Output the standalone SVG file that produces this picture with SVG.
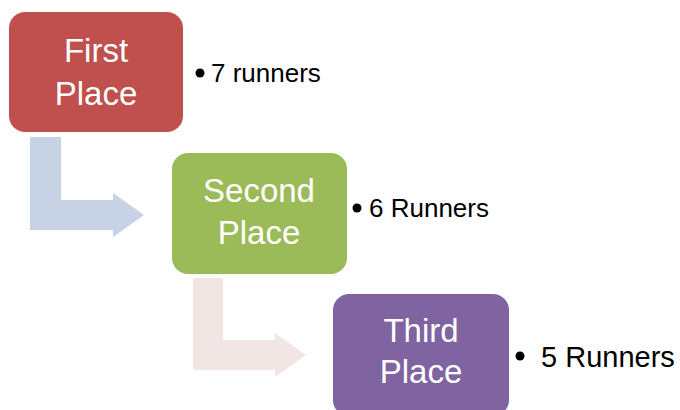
<svg xmlns="http://www.w3.org/2000/svg" width="680" height="410" viewBox="0 0 680 410">
  <style>
    .box-label { font-family: "Liberation Sans", Arial, sans-serif; font-size: 33px; fill: #ffffff; text-anchor: middle; }
    .note { font-family: "Liberation Sans", Arial, sans-serif; font-size: 26px; fill: #000000; }
    .dot { fill: #000000; }
  </style>
  <rect width="680" height="410" fill="#ffffff"/>

  <!-- bent connector arrows -->
  <g id="connectors">
    <path d="M30,137 H61 V200 H113 V193 L144,215 L113,237 V230 H30 Z" fill="#C7D3E5"/>
    <path d="M193,278 H223 V340 H275 V333 L306,355 L275,377 V370 H193 Z" fill="#F2E6E5"/>
  </g>

  <g id="first-place">
    <rect x="9" y="12" width="174" height="120" rx="16" fill="#C0504D"/>
    <text class="box-label" x="96" y="62">First</text>
    <text class="box-label" x="96" y="105">Place</text>
  </g>
  <g id="first-note">
    <circle class="dot" cx="200" cy="73" r="4.5"/>
    <text class="note" x="211" y="82">7 runners</text>
  </g>

  <g id="second-place">
    <rect x="172" y="153" width="175" height="121" rx="16" fill="#9BBB59"/>
    <text class="box-label" x="259" y="202">Second</text>
    <text class="box-label" x="259" y="244">Place</text>
  </g>
  <g id="second-note">
    <circle class="dot" cx="357" cy="208" r="4.5"/>
    <text class="note" x="369" y="217">6 Runners</text>
  </g>

  <g id="third-place">
    <rect x="333" y="294" width="176" height="122" rx="16" fill="#8064A2"/>
    <text class="box-label" x="421" y="342">Third</text>
    <text class="box-label" x="421" y="383">Place</text>
  </g>
  <g id="third-note">
    <circle class="dot" cx="520" cy="356" r="4.5"/>
    <text class="note" x="541" y="367" style="font-size:29px">5 Runners</text>
  </g>
</svg>
